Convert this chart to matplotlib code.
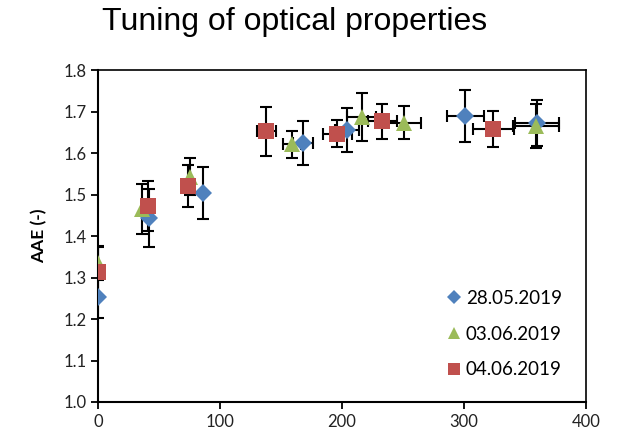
import numpy as np
import matplotlib.pyplot as plt

# data
labels = ["28.05.2019", "03.06.2019", "04.06.2019"]

x_blue = [0, 42, 86, 168, 204, 301, 360]
y_blue = [1.253, 1.443, 1.504, 1.625, 1.656, 1.689, 1.672]
yerr_blue = [0.05, 0.07, 0.063, 0.053, 0.053, 0.063, 0.055]
xerr_blue = [0, 0, 0, 8, 10, 15, 18]

x_green = [0, 36, 75, 159, 216, 251, 359]
y_green = [1.335, 1.465, 1.543, 1.621, 1.687, 1.673, 1.665]
yerr_green = [0.04, 0.06, 0.045, 0.033, 0.058, 0.04, 0.053]
xerr_green = [0, 0, 0, 7, 12, 14, 19]

x_red = [0, 41, 74, 138, 196, 233, 324]
y_red = [1.314, 1.473, 1.52, 1.652, 1.647, 1.676, 1.658]
yerr_red = [0.06, 0.06, 0.05, 0.058, 0.032, 0.043, 0.044]
xerr_red = [0, 0, 0, 8, 12, 12, 17]

fig = plt.figure(figsize=(6.3, 4.44), dpi=100)
ax = fig.add_axes([0.1556, 0.0946, 0.7746, 0.7477])

styles = [("D", "#4F81BD", 9), ("^", "#9BBB59", 11), ("s", "#C0504D", 12)]
series = [(x_blue, y_blue, xerr_blue, yerr_blue),
          (x_green, y_green, xerr_green, yerr_green),
          (x_red, y_red, xerr_red, yerr_red)]

for (xs, ys, xe, ye), (m, c, ms), lab in zip(series, styles, labels):
    ax.errorbar(xs, ys, xerr=xe, yerr=ye, fmt="none", ecolor="black",
                elinewidth=1.5, capsize=4, capthick=1.5, zorder=2)
    ax.plot(xs, ys, linestyle="none", marker=m, color=c, markersize=ms,
            markeredgewidth=0, label=lab, zorder=3)

ax.set_xlim(0, 400)
ax.set_ylim(1.0, 1.8)
ax.set_xticks([0, 100, 200, 300, 400])
ax.set_yticks(np.arange(1.0, 1.81, 0.1))
ax.set_yticklabels([f"{v:.1f}" for v in np.arange(1.0, 1.81, 0.1)])
ax.tick_params(direction="out", length=5, width=1.3, labelsize=12,
               colors="black", labelcolor="#222222")
for lab in ax.get_xticklabels() + ax.get_yticklabels():
    lab.set_fontfamily("Lato")
for s in ax.spines.values():
    s.set_linewidth(1.5)
ax.spines["top"].set_linewidth(1.2)
ax.spines["right"].set_linewidth(1.2)

ax.set_ylabel("AAE (-)", fontweight="bold", fontsize=12.5, fontfamily="Lato",
              labelpad=11)

fig.text(0.467, 0.95, "Tuning of optical properties", ha="center",
         va="center", fontsize=23, fontfamily="Liberation Sans")

leg = ax.legend(loc="lower right", bbox_to_anchor=(0.985, 0.02), frameon=False,
                prop={"family": "Lato", "size": 13.5}, handletextpad=0.1,
                labelspacing=1.0, handlelength=1.1, markerscale=0.75)

fig.savefig("out.png", dpi=100)
